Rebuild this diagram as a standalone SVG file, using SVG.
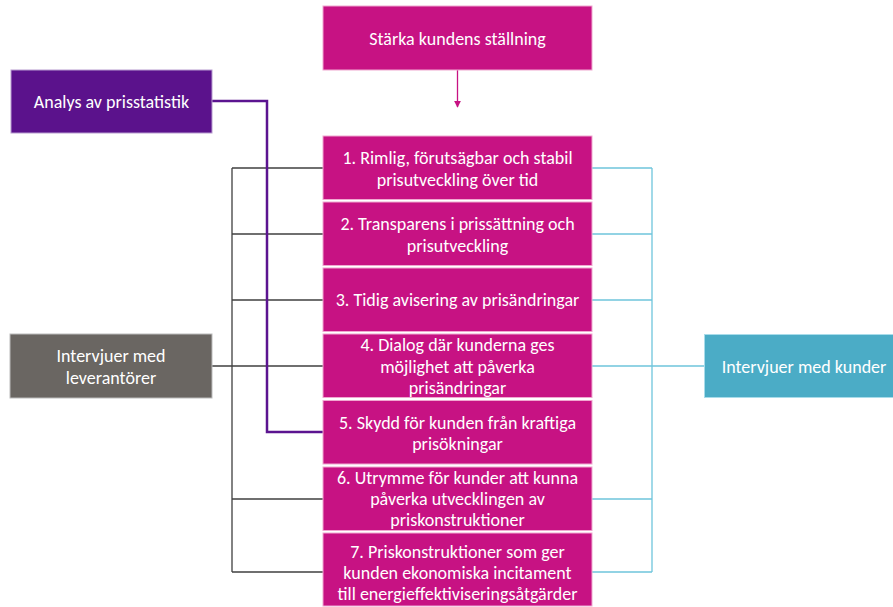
<svg xmlns="http://www.w3.org/2000/svg" width="893" height="607" viewBox="0 0 893 607">
<style>
text{font-family:Carlito,"Liberation Sans",sans-serif;font-size:18px;fill:#fff;text-anchor:middle;dominant-baseline:central}
.m{fill:#C71283;stroke:#F0A8D0;stroke-width:1}
.blk{fill:none;stroke:#404040;stroke-width:1.3}
.cy{fill:none;stroke:#6FC5DC;stroke-width:1.3}
.pu{fill:none;stroke:#5B1490;stroke-width:2.5}
</style>
<defs>
<marker id="ah" viewBox="0 0 10 10" refX="9" refY="5" markerWidth="7" markerHeight="7" markerUnits="userSpaceOnUse" orient="auto"><path d="M0,0 L10,5 L0,10 z" fill="#C71283"/></marker>
</defs>
<rect width="893" height="607" fill="#fff"/>
<g id="connectors">
<path class="blk" d="M232,168 V572 M232,168 H323 M232,234 H323 M232,300 H323 M212,366 H323 M232,499 H323 M232,572 H323"/>
<path class="cy" d="M652,168 V572 M592,168 H652 M592,234 H652 M592,300 H652 M592,366 H704 M592,499 H652 M592,572 H652"/>
<path class="pu" d="M212,101 H267 V432 H323"/>
<line x1="457.5" y1="70" x2="457.5" y2="107" stroke="#C71283" stroke-width="1.3" marker-end="url(#ah)"/>
</g>
<g id="top"><rect class="m" x="323" y="6" width="269" height="64"/><text x="457.5" y="39">Stärka kundens ställning</text></g>
<g id="analys"><rect x="11" y="70" width="201" height="63" fill="#5B128C" stroke="#B89CD0" stroke-width="1"/><text x="111.5" y="101.5">Analys av prisstatistik</text></g>
<g id="lev"><rect x="10" y="334" width="202" height="64" fill="#6A6662" stroke="#bbb" stroke-width="1"/><text x="111" y="356">Intervjuer med</text><text x="111" y="378">leverantörer</text></g>
<g id="kund"><rect x="704.5" y="334.5" width="192" height="63" fill="#4BACC6" stroke="#A8DCEA" stroke-width="1"/><text x="804" y="366.5">Intervjuer med kunder</text></g>
<g id="b1"><rect class="m" x="323" y="136" width="269" height="63.5"/><text x="457.5" y="158">1. Rimlig, förutsägbar och stabil</text><text x="457.5" y="179.5">prisutveckling över tid</text></g>
<g id="b2"><rect class="m" x="323" y="202" width="269" height="63.5"/><text x="457.5" y="224">2. Transparens i prissättning och</text><text x="457.5" y="245.5">prisutveckling</text></g>
<g id="b3"><rect class="m" x="323" y="268" width="269" height="63.5"/><text x="457.5" y="300">3. Tidig avisering av prisändringar</text></g>
<g id="b4"><rect class="m" x="323" y="334" width="269" height="63.5"/><text x="457.5" y="345">4. Dialog där kunderna ges</text><text x="457.5" y="366.5">möjlighet att påverka</text><text x="457.5" y="388">prisändringar</text></g>
<g id="b5"><rect class="m" x="323" y="400.5" width="269" height="63.5"/><text x="457.5" y="422.5">5. Skydd för kunden från kraftiga</text><text x="457.5" y="444">prisökningar</text></g>
<g id="b6"><rect class="m" x="323" y="467" width="269" height="63.5"/><text x="457.5" y="477.5">6. Utrymme för kunder att kunna</text><text x="457.5" y="498.5">påverka utvecklingen av</text><text x="457.5" y="519.5">priskonstruktioner</text></g>
<g id="b7"><rect class="m" x="323" y="533" width="269" height="73"/><text x="457.5" y="551.5">7. Priskonstruktioner som ger</text><text x="457.5" y="572.5">kunden ekonomiska incitament</text><text x="457.5" y="594">till energieffektiviseringsåtgärder</text></g>
</svg>
